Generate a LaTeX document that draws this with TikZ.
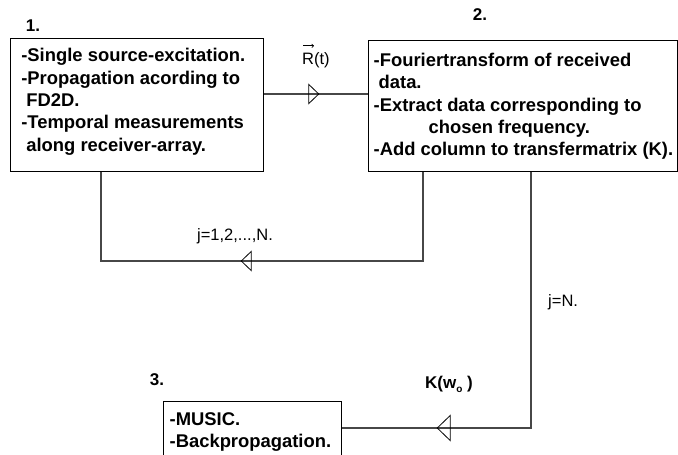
\documentclass[tikz,border=0pt]{standalone}
\usepackage{fontspec}
\setmainfont{Liberation Sans}
\usetikzlibrary{arrows.meta,decorations.markings}
\tikzset{
  box/.style={draw=black, line width=1.3pt, inner sep=0pt, anchor=north west,
    font=\bfseries\fontsize{18.4}{22.4}\selectfont},
  conn/.style={draw=black!72, line width=1.3pt},
  lbl/.style={inner sep=0pt, font=\fontsize{16.5}{20}\selectfont},
  blbl/.style={inner sep=0pt, font=\bfseries\fontsize{17}{20}\selectfont},
  tri/.tip={Triangle[open,length=11pt,width=21pt]},
  bigtri/.tip={Triangle[open,length=14pt,width=27pt]},
  vecarrow/.style={draw=black, line width=0.7pt, -{To[length=2.5pt,width=4pt]}},
  midarrow/.style 2 args={postaction={decorate},
    decoration={markings, mark=at position #1 with {\arrow[black, line width=0.8pt]{#2}}}}
}
\begin{document}
\begin{tikzpicture}[x=1pt, y=-1pt]
\useasboundingbox (0,0) rectangle (678,455);
\clip (0,0) rectangle (678,455);
\fill[white] (0,0) rectangle (678,455);

% boxes
\node[box] (b1) at (10,38) {\parbox[c][133pt][t]{253pt}{\vspace*{9.7pt}\leftskip=10.7pt\parindent=0pt
\mbox{-Single source-excitation.}\\
\mbox{-Propagation acording to}\\
\mbox{\hspace*{5pt}FD2D.}\\
\mbox{-Temporal measurements}\\
\mbox{\hspace*{5pt}along receiver-array.}}};

\node[box] (b2) at (368,40) {\parbox[c][131pt][t]{309pt}{\vspace*{12.3pt}\leftskip=5pt\parindent=0pt
\mbox{-Fouriertransform of received}\\
\mbox{\hspace*{5pt}data.}\\
\mbox{-Extract data corresponding to}\\
\mbox{\hspace*{55pt}chosen frequency.}\\
\mbox{-Add column to transfermatrix (K).}}};

\node[box] (b3) at (163,401) {\parbox[c][74pt][t]{178pt}{\vspace*{10.5pt}\leftskip=6pt\parindent=0pt
\mbox{-MUSIC.}\\
\mbox{-Backpropagation.}}};

% labels
\node[blbl, anchor=base] (n1) at (33,31) {1.};
\node[blbl, anchor=base] (n2) at (480,20.7) {2.};
\node[blbl, anchor=base] (n3) at (157,385) {3.};
\node[lbl, anchor=base west] (rt) at (302,64) {R(t)};
\draw[vecarrow] ([xshift=1pt,yshift=6pt]rt.north west) -- ++(11,0);
\node[lbl, anchor=base] (j1) at (235,240) {j=1,2,...,N.};
\node[lbl, anchor=base west] (jn) at (548,306.5) {j=N.};
\node[blbl, anchor=base west] (kw) at (425,388) {K(w\raisebox{-4pt}{\fontsize{10}{10}\selectfont o} )};

% helper coordinates
\coordinate (y1) at (0,94);
\coordinate (xa) at (423,0);
\coordinate (xb) at (101,0);
\coordinate (xc) at (531,0);
\coordinate (yl) at (0,261);
\coordinate (yk) at (0,428);

% connectors
\draw[conn, midarrow={55pt}{tri}] (b1.east |- y1) -- (b2.west |- y1);
\draw[conn, midarrow={271pt}{tri}] (b2.south -| xa) -- (xa |- yl) -- (xb |- yl) -- (b1.south -| xb);
\draw[conn, midarrow={350pt}{bigtri}] (b2.south -| xc) -- (xc |- yk) -- (b3.east |- yk);
\end{tikzpicture}
\end{document}
